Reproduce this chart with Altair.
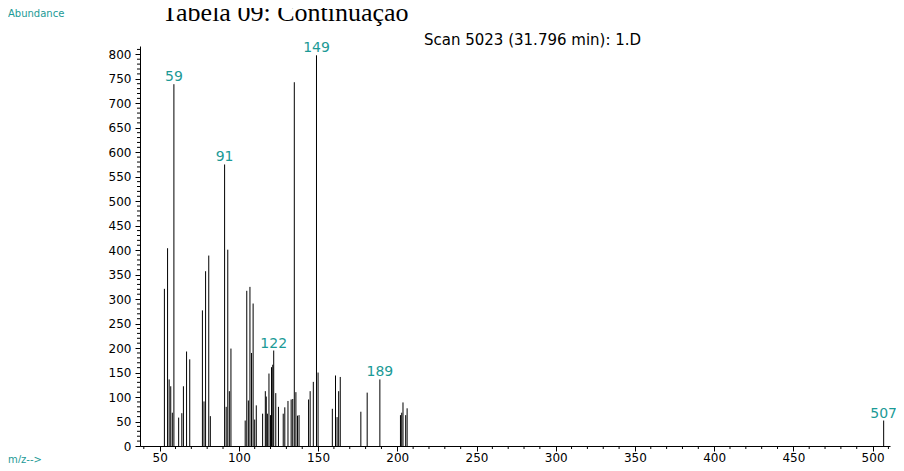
import altair as alt
import pandas as pd

# m/z positions and abundances
mz = [53, 55, 56, 57, 58, 59, 62, 64, 65, 67, 69,
      77, 78, 79, 81, 82,
      91, 92, 93, 94, 95,
      104, 105, 106, 107, 108, 109, 110, 111,
      115, 116.7, 117.3, 118, 119, 120, 120.6, 121.4, 122, 123.3, 125,
      128, 129, 131, 133, 134, 135, 136, 137, 138,
      144, 145, 147, 149, 150,
      159, 161, 162, 163, 164,
      177, 181, 189,
      202, 202.8, 203.6, 205.3, 206.2,
      507]
abundance = [321, 404, 136, 122, 68, 739, 58, 67, 122, 193, 177,
             277, 91, 357, 389, 61,
             575, 80, 401, 112, 199,
             52, 317, 93, 325, 190, 291, 54, 83,
             66, 112, 101, 66, 148, 63, 161, 166, 195, 108, 80,
             66, 79, 92, 95, 96, 743, 110, 62, 63,
             95, 112, 131, 798, 150,
             76, 144, 59, 112, 141,
             70, 109, 136,
             63, 68, 89, 63, 77,
             52]
peak_labels = [59, 91, 122, 149, 189, 507]

x_major = list(range(50, 501, 50))
x_minor = [v for v in range(40, 511, 10) if v % 50 != 0]
y_major = list(range(0, 801, 50))
y_minor = [v for v in range(0, 811, 10) if v % 50 != 0]

TEAL = "#1b9a96"
FONT = "DejaVu Sans"

df = pd.DataFrame({"mz": mz, "abundance": abundance})
peaks = df[df["mz"].isin(peak_labels)].copy()
peaks["label"] = peaks["mz"].astype(int).astype(str)

x_scale = alt.Scale(domain=[37.6, 511], nice=False, zero=False)
y_scale = alt.Scale(domain=[0, 817], nice=False)

x_axis = alt.Axis(
    values=x_major, title=None, grid=False, labelOverlap=False,
    labelFont=FONT, labelFontSize=12, labelColor="black", labelPadding=1,
    domainColor="black", tickColor="black", tickSize=5, labelFlush=False,
)
y_axis = alt.Axis(
    values=y_major, title=None, grid=False, labelOverlap=False,
    labelFont=FONT, labelFontSize=12, labelColor="black", labelPadding=4,
    domainColor="black", tickColor="black", tickSize=5, labelFlush=False,
)

bars = alt.Chart(df).mark_rule(color="black", strokeWidth=1).encode(
    x=alt.X("mz:Q", scale=x_scale, axis=x_axis),
    y=alt.Y("abundance:Q", scale=y_scale, axis=y_axis),
    y2=alt.datum(0),
)

xminor_df = pd.DataFrame({"mz": x_minor})
xminor = alt.Chart(xminor_df).mark_rule(color="black", strokeWidth=1).encode(
    x=alt.X("mz:Q", scale=x_scale, axis=x_axis),
    y=alt.value(400), y2=alt.value(403),
)
yminor_df = pd.DataFrame({"abundance": y_minor})
yminor = alt.Chart(yminor_df).mark_rule(color="black", strokeWidth=1).encode(
    y=alt.Y("abundance:Q", scale=y_scale, axis=y_axis),
    x=alt.value(0), x2=alt.value(-3),
)

labels = alt.Chart(peaks).mark_text(
    color=TEAL, font=FONT, fontSize=14, baseline="alphabetic", align="center", dy=-3
).encode(
    x=alt.X("mz:Q", scale=x_scale, axis=x_axis),
    y=alt.Y("abundance:Q", scale=y_scale, axis=y_axis),
    text="label:N",
)

title_df = pd.DataFrame({"t": ["Tabela 09: Continuação"]})
title = alt.Chart(title_df).mark_text(
    font="Liberation Serif", fontSize=26, color="black", align="left", baseline="alphabetic"
).encode(x=alt.value(22), y=alt.value(-25), text="t:N")

abund_df = pd.DataFrame({"t": ["Abundance"]})
abund_txt = alt.Chart(abund_df).mark_text(
    font=FONT, fontSize=10, color=TEAL, align="left", baseline="middle"
).encode(x=alt.value(-132), y=alt.value(-32), text="t:N")

scan_df = pd.DataFrame({"t": ["Scan 5023 (31.796 min): 1.D"]})
scan_txt = alt.Chart(scan_df).mark_text(
    font=FONT, fontSize=15, color="black", align="left", baseline="middle"
).encode(x=alt.value(284), y=alt.value(-6), text="t:N")

mz_df = pd.DataFrame({"t": ["m/z-->"]})
mz_txt = alt.Chart(mz_df).mark_text(
    font=FONT, fontSize=10, color=TEAL, align="left", baseline="alphabetic"
).encode(x=alt.value(-132), y=alt.value(416.5), text="t:N")

chart = alt.layer(bars, xminor, yminor, labels, title, abund_txt, scan_txt, mz_txt).properties(
    width=750, height=400,
    padding={"left": 132, "top": 38, "right": 6, "bottom": 17},
    autosize=alt.AutoSizeParams(type="none"),
    background="white",
).configure_view(stroke=None)

chart.save("out.html", embed_options={"renderer": "svg", "actions": False})
